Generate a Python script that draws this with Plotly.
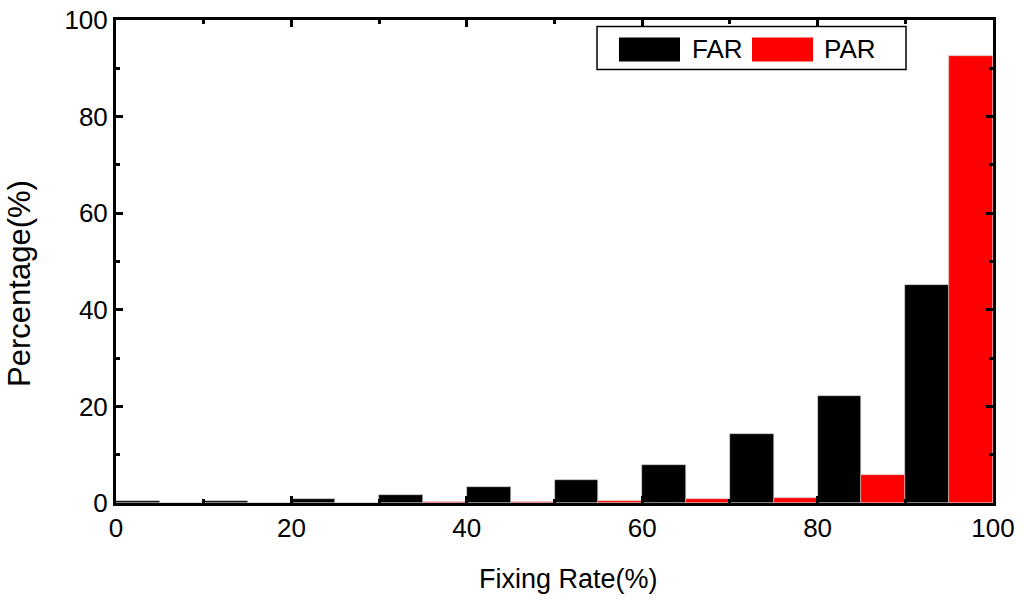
import plotly.graph_objects as go

# bin centres of the fixing-rate histogram (10% wide bins)
bin_centres = [5, 15, 25, 35, 45, 55, 65, 75, 85, 95]
far_pct = [0.4, 0.4, 0.9, 1.7, 3.3, 4.7, 7.9, 14.3, 22.2, 45.1]
par_pct = [0.0, 0.0, 0.0, 0.2, 0.2, 0.45, 0.85, 1.0, 5.7, 92.6]

x_ticks = [0, 20, 40, 60, 80, 100]
y_ticks = [0, 20, 40, 60, 80, 100]

FONT = "Liberation Sans, Arial, sans-serif"

fig = go.Figure()
fig.add_trace(go.Bar(
    x=bin_centres, y=far_pct, name="FAR",
    marker=dict(color="black", line=dict(color="#cccccc", width=0.6)),
))
fig.add_trace(go.Bar(
    x=bin_centres, y=par_pct, name="PAR",
    marker=dict(color="#ff0000", line=dict(color="#cccccc", width=0.6)),
))

axis_common = dict(
    showline=True, linecolor="black", linewidth=3, mirror="allticks",
    ticks="inside", ticklen=7, tickwidth=2.5, tickcolor="black",
    showgrid=False, zeroline=False, automargin=False,
    ticklabeloverflow="allow",
    tickfont=dict(family=FONT, size=26, color="black"),
)
minor_ticks = dict(dtick=10, tick0=0, ticks="inside", ticklen=4, tickwidth=2.5, tickcolor="black")

fig.update_layout(
    barmode="group", bargap=0, bargroupgap=0,
    showlegend=False,
    width=1024, height=613,
    margin=dict(l=116, r=31, t=20, b=110),
    paper_bgcolor="white", plot_bgcolor="white",
    xaxis=dict(range=[0, 100], tickvals=x_ticks, minor=minor_ticks, **axis_common),
    yaxis=dict(range=[0, 100], tickvals=y_ticks, minor=minor_ticks, **axis_common),
)

# axis titles (off-centre in the original, so placed as annotations)
fig.add_annotation(text="Fixing Rate(%)", xref="paper", yref="paper", x=0.5165, y=-0.158,
                   xanchor="center", yanchor="middle", showarrow=False,
                   font=dict(family=FONT, size=27, color="black"))
fig.add_annotation(text="Percentage(%)", xref="paper", yref="paper", x=-0.1095, y=0.4556,
                   xanchor="center", yanchor="middle", showarrow=False, textangle=-90,
                   font=dict(family=FONT, size=31, color="black"))

# legend drawn by hand to get the wide Origin-style swatches
fig.add_shape(type="rect", xref="paper", yref="paper",
              x0=0.5485, x1=0.9008, y0=0.8977, y1=0.9866,
              line=dict(color="black", width=1.5), fillcolor="white")
fig.add_shape(type="rect", xref="paper", yref="paper",
              x0=0.5735, x1=0.6431, y0=0.9143, y1=0.9638,
              line=dict(width=0), fillcolor="black")
fig.add_shape(type="rect", xref="paper", yref="paper",
              x0=0.7252, x1=0.7948, y0=0.9143, y1=0.9638,
              line=dict(width=0), fillcolor="#ff0000")
for label, xpos in [("FAR", 0.6545), ("PAR", 0.805)]:
    fig.add_annotation(text=label, xref="paper", yref="paper", x=xpos, y=0.9401,
                       xanchor="left", yanchor="middle", showarrow=False,
                       font=dict(family=FONT, size=26, color="black"))

# drop the default 8px page margin so the figure sits at the window origin
fig.write_html("out.html", config={"displayModeBar": False},
               post_script="document.body.style.margin = '0';")
